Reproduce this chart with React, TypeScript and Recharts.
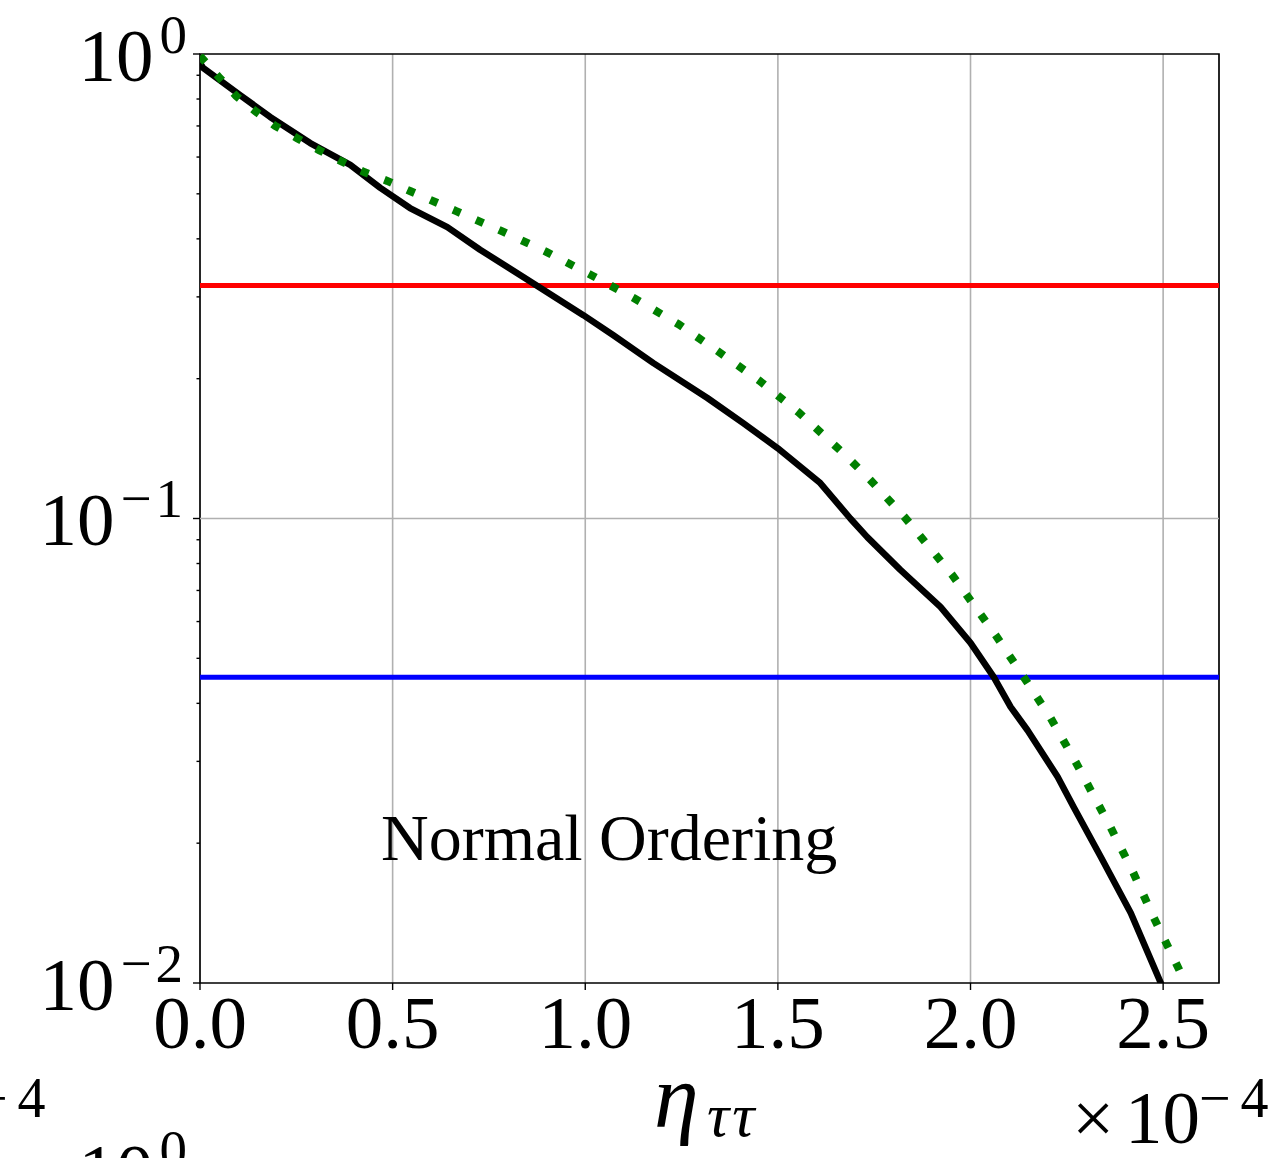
import React from "react";
import {
  LineChart,
  Line,
  XAxis,
  YAxis,
  CartesianGrid,
  ReferenceLine,
  ReferenceArea,
} from "recharts";

// ---------- data ----------
const X_MAX = 2.645;
const xTicks = [0, 0.5, 1.0, 1.5, 2.0, 2.5];
const yMajorTicks = [0.01, 0.1, 1];
const yMinorTicks = [
  0.02, 0.03, 0.04, 0.05, 0.06, 0.07, 0.08, 0.09,
  0.2, 0.3, 0.4, 0.5, 0.6, 0.7, 0.8, 0.9,
];

const blackX = [
  0, 0.008, 0.104, 0.182, 0.286, 0.39, 0.468, 0.545, 0.642, 0.727, 0.839,
  0.995, 1.073, 1.177, 1.317, 1.41, 1.499, 1.61, 1.688, 1.732, 1.818, 1.922,
  2.0, 2.06, 2.104, 2.148, 2.226, 2.268, 2.338, 2.416, 2.494, 2.506,
];
const blackY = [
  0.956, 0.933, 0.816, 0.732, 0.643, 0.577, 0.515, 0.466, 0.424, 0.379, 0.331,
  0.274, 0.248, 0.216, 0.1817, 0.1605, 0.1418, 0.1192, 0.1, 0.0912, 0.0775,
  0.0645, 0.054, 0.0456, 0.0393, 0.035, 0.0278, 0.0239, 0.0187, 0.01415, 0.01,
  0.00942,
];

const greenX = [
  0, 0.049, 0.094, 0.143, 0.195, 0.252, 0.309, 0.366, 0.426, 0.486, 0.545,
  0.665, 0.782, 0.899, 1.016, 1.127, 1.242, 1.348, 1.452, 1.553, 1.675, 1.74,
  1.829, 1.953, 2.065, 2.138, 2.208, 2.273, 2.364, 2.423, 2.475, 2.532, 2.558,
  2.577,
];
const greenY = [
  0.99, 0.892, 0.812, 0.754, 0.7, 0.659, 0.621, 0.588, 0.557, 0.533, 0.507,
  0.459, 0.416, 0.375, 0.334, 0.298, 0.262, 0.228, 0.198, 0.1695, 0.137, 0.121,
  0.1007, 0.0755, 0.0561, 0.0456, 0.0372, 0.0299, 0.0216, 0.01725, 0.01387,
  0.0111, 0.01, 0.0093,
];

const redLevel = 0.3173;
const blueLevel = 0.0455;
const gridLevelY = 0.1;

const annotationText = "Normal Ordering";

// ---------- build series ----------
const zip = (xs: number[], ys: number[]) => xs.map((x, i) => ({ x, y: ys[i] }));
const blackData = zip(blackX, blackY);
const greenData = zip(greenX, greenY);
const redData = [
  { x: 0, y: redLevel },
  { x: X_MAX, y: redLevel },
];
const blueData = [
  { x: 0, y: blueLevel },
  { x: X_MAX, y: blueLevel },
];

const SERIF = "'Liberation Serif', 'Times New Roman', Times, serif";
const W = 1281;
const H = 1158;
const TICK_SIZE = 7;

const expLabel = (exp: number) => (exp === 0 ? "0" : "\u2212" + Math.abs(exp));

function PowLabel({ x, y, exp }: { x: number; y: number; exp: number }) {
  return (
    <text
      x={x}
      y={y + 26.5}
      textAnchor="end"
      fontFamily={SERIF}
      fontSize={75}
      fill="#000"
    >
      10
      <tspan dx={6} dy={-28} fontSize={55} letterSpacing={exp === 0 ? 0 : 4}>
        {expLabel(exp)}
      </tspan>
    </text>
  );
}

function YTick(props: any) {
  const { x, y, payload } = props;
  const v = payload.value as number;
  const lg = Math.log10(v);
  const isMajor = Math.abs(lg - Math.round(lg)) < 1e-6;
  const axisX = x + TICK_SIZE;
  return (
    <g>
      <line
        x1={axisX - (isMajor ? 7 : 3.5)}
        x2={axisX}
        y1={y}
        y2={y}
        stroke="#000"
        strokeWidth={1.4}
      />
      {isMajor && <PowLabel x={axisX - 13} y={y} exp={Math.round(lg)} />}
    </g>
  );
}

export default function App() {
  return (
    <div
      style={{
        position: "absolute",
        left: 0,
        top: 0,
        width: W,
        height: H,
        background: "#fff",
      }}
    >
      <LineChart
        width={W}
        height={H}
        margin={{ top: 54, right: 62, bottom: 95, left: 10 }}
      >
        <CartesianGrid
          horizontal={false}
          vertical={true}
          stroke="#b0b0b0"
          strokeWidth={1.6}
        />
        <XAxis
          type="number"
          dataKey="x"
          domain={[0, X_MAX]}
          ticks={xTicks}
          allowDataOverflow
          height={80}
          tickSize={7}
          tickMargin={5}
          axisLine={false}
          tickLine={{ stroke: "#000", strokeWidth: 1.4 }}
          tickFormatter={(v: number) => v.toFixed(1)}
          tick={{ fontSize: 75, fill: "#000", fontFamily: SERIF }}
        />
        <YAxis
          type="number"
          dataKey="y"
          scale="log"
          domain={[0.01, 1]}
          ticks={[...yMajorTicks, ...yMinorTicks]}
          allowDataOverflow
          width={190}
          tickSize={TICK_SIZE}
          tickMargin={0}
          axisLine={false}
          tickLine={false}
          tick={<YTick />}
          interval={0}
        />
        <ReferenceLine y={gridLevelY} stroke="#b0b0b0" strokeWidth={1.6} />
        <Line
          data={redData}
          dataKey="y"
          stroke="#ff0000"
          strokeWidth={5}
          dot={false}
          activeDot={false}
          isAnimationActive={false}
        />
        <Line
          data={blueData}
          dataKey="y"
          stroke="#0000ff"
          strokeWidth={5}
          dot={false}
          activeDot={false}
          isAnimationActive={false}
        />
        <Line
          data={blackData}
          dataKey="y"
          type="linear"
          stroke="#000000"
          strokeWidth={6.5}
          strokeLinejoin="round"
          dot={false}
          activeDot={false}
          isAnimationActive={false}
        />
        <Line
          data={greenData}
          dataKey="y"
          type="linear"
          stroke="#008000"
          strokeWidth={8}
          strokeDasharray="8 17"
          strokeLinecap="butt"
          dot={false}
          activeDot={false}
          isAnimationActive={false}
        />
        <ReferenceArea
          x1={0}
          x2={X_MAX}
          y1={0.01}
          y2={1}
          fill="none"
          fillOpacity={0}
          stroke="#000"
          strokeWidth={1.6}
        />
      </LineChart>
      <svg
        width={W}
        height={H}
        style={{ position: "absolute", left: 0, top: 0, pointerEvents: "none" }}
      >
        <text x={381} y={860} fontFamily={SERIF} fontSize={66} fill="#000">
          {annotationText}
        </text>
        <text
          x={654}
          y={1127}
          fontFamily={SERIF}
          fontStyle="italic"
          fontSize={90}
          fill="#000"
        >
          η
        </text>
        <text
          x={707}
          y={1136}
          fontFamily={SERIF}
          fontStyle="italic"
          fontSize={62}
          letterSpacing={3}
          fill="#000"
        >
          ττ
        </text>
        <text x={1072} y={1143} fontFamily={SERIF} fontSize={75} fill="#000">
          ×
        </text>
        <text x={1125} y={1143} fontFamily={SERIF} fontSize={75} fill="#000">
          10
        </text>
        <text
          x={1199}
          y={1117}
          fontFamily={SERIF}
          fontSize={56}
          letterSpacing={10}
          fill="#000"
        >
          −4
        </text>
        <text
          x={-24}
          y={1117}
          fontFamily={SERIF}
          fontSize={56}
          letterSpacing={10}
          fill="#000"
        >
          −4
        </text>
        <PowLabel x={187} y={1169} exp={0} />
      </svg>
    </div>
  );
}
